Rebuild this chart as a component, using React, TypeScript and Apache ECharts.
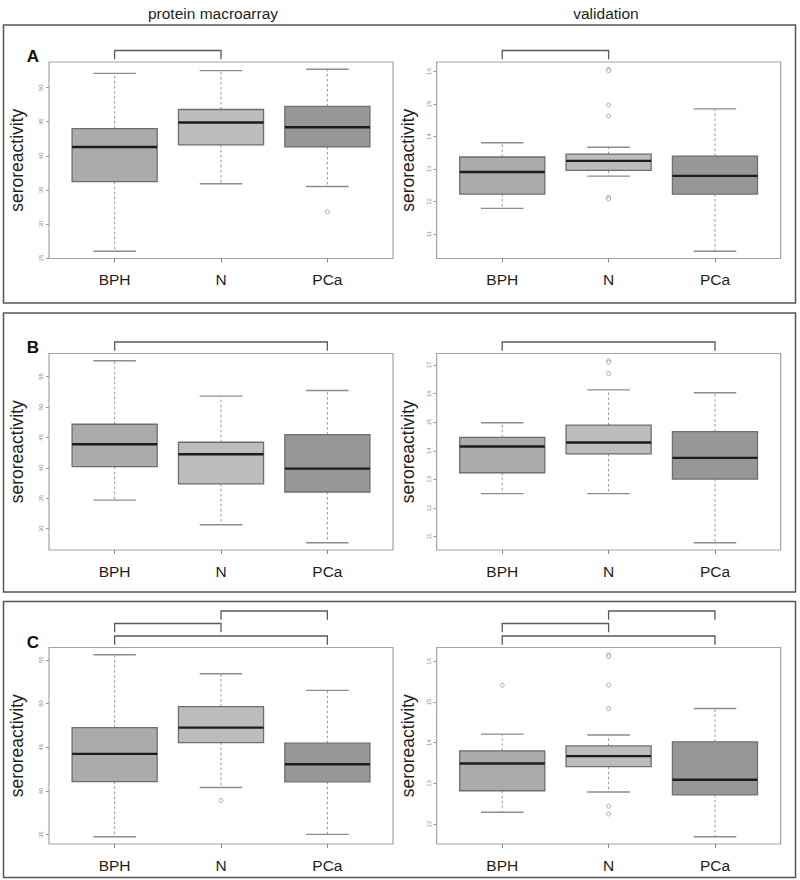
import React, { useEffect, useRef } from "react";
import * as echarts from "echarts";

const categories = ["BPH", "N", "PCa"];
const columnTitles = ["protein macroarray", "validation"];
const rowLetters = ["A", "B", "C"];
const yName = "seroreactivity";

// [min whisker, Q1, median, Q3, max whisker] per category
const statsAL = [[26.0, 36.2, 41.3, 44.0, 52.1], [35.9, 41.6, 44.9, 46.8, 52.5], [35.5, 41.3, 44.2, 47.25, 52.7]];
const outAL = [[3, 31.8]];
const statsAR = [[11.79, 12.23, 12.91, 13.37, 13.81], [12.78, 12.96, 13.25, 13.46, 13.67], [10.47, 12.23, 12.79, 13.4, 14.85]];
const outAR = [[2, 16.07], [2, 16.03], [2, 14.97], [2, 14.63], [2, 12.13], [2, 12.08]];
const statsBL = [[34.7, 40.2, 43.87, 47.16, 57.58], [30.66, 37.35, 42.23, 44.2, 51.77], [27.7, 36.03, 39.87, 45.46, 52.7]];
const outBL: number[][] = [];
const statsBR = [[12.5, 13.23, 14.15, 14.47, 14.98], [12.5, 13.89, 14.29, 14.9, 16.13], [10.78, 13.01, 13.75, 14.67, 16.03]];
const outBR = [[2, 17.15], [2, 17.1], [2, 16.7]];
const statsCL = [[34.77, 41.08, 44.24, 47.24, 55.57], [40.4, 45.53, 47.24, 49.64, 53.4], [35.04, 41.05, 43.06, 45.46, 51.5]];
const outCL = [[2, 38.92]];
const statsCR = [[12.29, 12.82, 13.49, 13.8, 14.21], [12.79, 13.41, 13.67, 13.92, 14.19], [11.69, 12.72, 13.09, 14.02, 14.84]];
const outCR = [[1, 15.41], [2, 16.16], [2, 16.12], [2, 15.42], [2, 14.84], [2, 12.44], [2, 12.25]];

const ticksAL = [25, 30, 35, 40, 45, 50];
const ticksAR = [11, 12, 13, 14, 15, 16];
const ticksBL = [30, 35, 40, 45, 50, 55];
const ticksBR = [11, 12, 13, 14, 15, 16, 17];
const ticksCL = [35, 40, 45, 50, 55];
const ticksCR = [12, 13, 14, 15, 16];

// significance brackets: [from category, to category, level]
const bracketsA = [[1, 2, 0]];
const bracketsB = [[1, 3, 0]];
const bracketsC = [[1, 3, 0], [1, 2, 1], [2, 3, 2]];

const FONT = "'Liberation Sans', Arial, sans-serif";
const fills = ["#ababab", "#bdbdbd", "#979797"];

const panels = [
  { stats: statsAL, out: outAL, ticks: ticksAL, br: bracketsA, row: 0, col: 0 },
  { stats: statsAR, out: outAR, ticks: ticksAR, br: bracketsA, row: 0, col: 1 },
  { stats: statsBL, out: outBL, ticks: ticksBL, br: bracketsB, row: 1, col: 0 },
  { stats: statsBR, out: outBR, ticks: ticksBR, br: bracketsB, row: 1, col: 1 },
  { stats: statsCL, out: outCL, ticks: ticksCL, br: bracketsC, row: 2, col: 0 },
  { stats: statsCR, out: outCR, ticks: ticksCR, br: bracketsC, row: 2, col: 1 },
];

const gridTops = [62, 353.5, 647.5];
const gridLefts = [49, 436.6];
const GRID_W = 344;
const GRID_H = 196.5;

function boxRender(params: any, api: any) {
  const x = api.value(0);
  const lo = api.coord([x, api.value(1)]);
  const q1 = api.coord([x, api.value(2)]);
  const md = api.coord([x, api.value(3)]);
  const q3 = api.coord([x, api.value(4)]);
  const hi = api.coord([x, api.value(5)]);
  const cx = lo[0];
  const hw = api.size([0.8, 0])[0] / 2;
  const cw = hw / 2;
  const dashed = { stroke: "#7a7a7a", lineWidth: 0.8, lineDash: [2.5, 2.5] };
  const cap = { stroke: "#8c8c8c", lineWidth: 1.4 };
  return {
    type: "group",
    children: [
      { type: "line", shape: { x1: cx, y1: q3[1], x2: cx, y2: hi[1] }, style: dashed },
      { type: "line", shape: { x1: cx, y1: q1[1], x2: cx, y2: lo[1] }, style: dashed },
      { type: "line", shape: { x1: cx - cw, y1: hi[1], x2: cx + cw, y2: hi[1] }, style: cap },
      { type: "line", shape: { x1: cx - cw, y1: lo[1], x2: cx + cw, y2: lo[1] }, style: cap },
      {
        type: "rect",
        shape: { x: cx - hw, y: q3[1], width: hw * 2, height: q1[1] - q3[1] },
        style: { fill: fills[params.dataIndex], stroke: "#6e6e6e", lineWidth: 1.3 },
      },
      { type: "line", shape: { x1: cx - hw, y1: md[1], x2: cx + hw, y2: md[1] }, style: { stroke: "#1c1c1c", lineWidth: 2.4 } },
    ],
  };
}

function bracketRender(params: any, api: any) {
  const cs = params.coordSys;
  const a = api.coord([api.value(0), 0])[0];
  const b = api.coord([api.value(1), 0])[0];
  const level = api.value(2);
  const top = cs.y - 11.5 - level * 12.5;
  const leg = top + 8.7;
  return {
    type: "polyline",
    shape: { points: [[a, leg], [a, top], [b, top], [b, leg]] },
    style: { stroke: "#5a5a5a", lineWidth: 1.3, fill: "none" },
  };
}

export default function App() {
  const ref = useRef<HTMLDivElement>(null);
  useEffect(() => {
    if (!ref.current) return;
    const chart = echarts.init(ref.current, null, { renderer: "svg" });
    const grid: any[] = [];
    const xAxis: any[] = [];
    const yAxis: any[] = [];
    const series: any[] = [];
    panels.forEach((p, i) => {
      const all = p.stats.flat().concat(p.out.map((o) => o[1]));
      const mn = Math.min(...all);
      const mx = Math.max(...all);
      const ext = (mx - mn) * 0.04;
      grid.push({
        left: gridLefts[p.col],
        top: gridTops[p.row],
        width: GRID_W,
        height: GRID_H,
        show: true,
        borderColor: "#a3a3a3",
        borderWidth: 1.2,
        backgroundColor: "transparent",
      });
      xAxis.push({
        type: "value",
        gridIndex: i,
        min: 0.383,
        max: 3.617,
        axisLine: { show: false },
        splitLine: { show: false },
        axisTick: { show: true, customValues: [1, 2, 3], length: 4, lineStyle: { color: "#888", width: 1 } },
        axisLabel: {
          customValues: [1, 2, 3],
          formatter: (v: number) => categories[Math.round(v) - 1],
          fontSize: 15.5,
          color: "#1e1e1e",
          fontFamily: FONT,
          margin: 13,
        },
      });
      yAxis.push({
        type: "value",
        gridIndex: i,
        min: mn - ext,
        max: mx + ext,
        axisLine: { show: false },
        splitLine: { show: false },
        axisTick: { show: true, customValues: p.ticks, length: 3, lineStyle: { color: "#999", width: 1 } },
        axisLabel: {
          customValues: p.ticks,
          rotate: 90,
          fontSize: 6,
          color: "#8a8a8a",
          fontFamily: FONT,
          margin: 5,
        },
        name: yName,
        nameLocation: "middle",
        nameGap: p.col === 0 ? 23 : 20,
        nameTextStyle: { fontSize: 17.5, color: "#1e1e1e", fontFamily: FONT },
      });
      series.push({
        type: "custom",
        xAxisIndex: i,
        yAxisIndex: i,
        renderItem: boxRender,
        encode: { x: 0, y: [1, 2, 3, 4, 5] },
        data: p.stats.map((s, k) => [k + 1, ...s]),
        clip: false,
        silent: true,
      });
      series.push({
        type: "scatter",
        xAxisIndex: i,
        yAxisIndex: i,
        symbol: "circle",
        symbolSize: 4,
        itemStyle: { color: "#ffffff", borderColor: "#7a7a7a", borderWidth: 0.8 },
        data: p.out,
        silent: true,
      });
      series.push({
        type: "custom",
        xAxisIndex: i,
        yAxisIndex: i,
        renderItem: bracketRender,
        encode: { x: [0, 1] },
        data: p.br,
        clip: false,
        silent: true,
      });
    });

    const frames = [
      [25, 278],
      [313, 279],
      [601.5, 276],
    ];
    const letterY = [56, 347.5, 642];
    const graphic: any[] = [];
    frames.forEach((f) => {
      graphic.push({
        type: "rect",
        shape: { x: 3.5, y: f[0], width: 792, height: f[1] },
        style: { fill: "none", stroke: "#555", lineWidth: 1.5 },
        silent: true,
      });
    });
    rowLetters.forEach((l, k) => {
      graphic.push({
        type: "text",
        x: 33,
        y: letterY[k],
        style: { text: l, font: `bold 17px ${FONT}`, fill: "#111", align: "center", verticalAlign: "middle" },
      });
    });
    const titleX = [213, 606];
    columnTitles.forEach((t, k) => {
      graphic.push({
        type: "text",
        x: titleX[k],
        y: 13,
        style: { text: t, font: `15.5px ${FONT}`, fill: "#1e1e1e", align: "center", verticalAlign: "middle" },
      });
    });

    chart.setOption({
      animation: false,
      backgroundColor: "#ffffff",
      grid,
      xAxis,
      yAxis,
      series,
      graphic,
    });
    return () => chart.dispose();
  }, []);
  return <div ref={ref} style={{ position: "absolute", left: 0, top: 0, width: 800, height: 880 }} />;
}
